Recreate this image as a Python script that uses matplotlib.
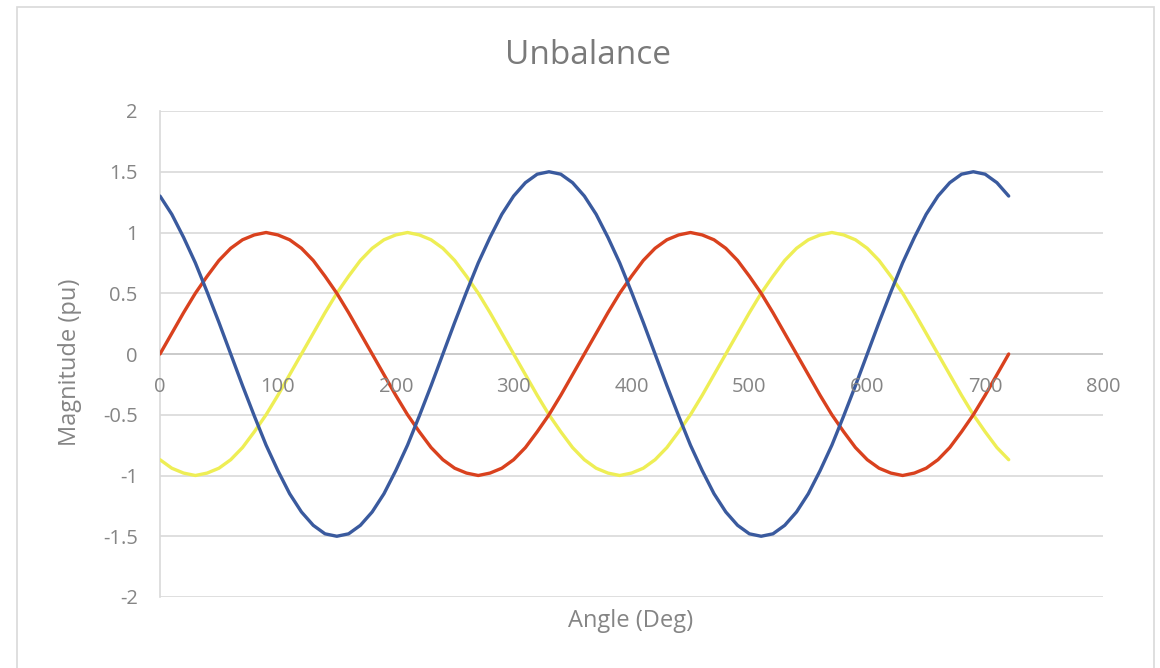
import matplotlib
matplotlib.use("Agg")
import matplotlib.pyplot as plt
from matplotlib.patches import Rectangle

# angle samples (deg)
angle = list(range(0, 730, 10))

# phase values (pu)
red_phase = [
    0, 0.17, 0.34, 0.5, 0.64, 0.77, 0.87, 0.94, 0.98, 1, 0.98, 0.94, 0.87, 0.77, 0.64, 0.5, 0.34, 0.17,
    0, -0.17, -0.34, -0.5, -0.64, -0.77, -0.87, -0.94, -0.98, -1, -0.98, -0.94, -0.87, -0.77, -0.64, -0.5, -0.34, -0.17,
    0, 0.17, 0.34, 0.5, 0.64, 0.77, 0.87, 0.94, 0.98, 1, 0.98, 0.94, 0.87, 0.77, 0.64, 0.5, 0.34, 0.17,
    0, -0.17, -0.34, -0.5, -0.64, -0.77, -0.87, -0.94, -0.98, -1, -0.98, -0.94, -0.87, -0.77, -0.64, -0.5, -0.34, -0.17,
    0,
]
yellow_phase = [
    -0.87, -0.94, -0.98, -1, -0.98, -0.94, -0.87, -0.77, -0.64, -0.5, -0.34, -0.17,
    0, 0.17, 0.34, 0.5, 0.64, 0.77, 0.87, 0.94, 0.98, 1, 0.98, 0.94, 0.87, 0.77, 0.64, 0.5, 0.34, 0.17,
    0, -0.17, -0.34, -0.5, -0.64, -0.77,
    -0.87, -0.94, -0.98, -1, -0.98, -0.94, -0.87, -0.77, -0.64, -0.5, -0.34, -0.17,
    0, 0.17, 0.34, 0.5, 0.64, 0.77, 0.87, 0.94, 0.98, 1, 0.98, 0.94, 0.87, 0.77, 0.64, 0.5, 0.34, 0.17,
    0, -0.17, -0.34, -0.5, -0.64, -0.77,
    -0.87,
]
blue_phase = [
    1.3, 1.15, 0.96, 0.75, 0.51, 0.26, 0, -0.26, -0.51, -0.75, -0.96, -1.15, -1.3, -1.41, -1.48, -1.5, -1.48, -1.41,
    -1.3, -1.15, -0.96, -0.75, -0.51, -0.26, 0, 0.26, 0.51, 0.75, 0.96, 1.15, 1.3, 1.41, 1.48, 1.5, 1.48, 1.41,
    1.3, 1.15, 0.96, 0.75, 0.51, 0.26, 0, -0.26, -0.51, -0.75, -0.96, -1.15, -1.3, -1.41, -1.48, -1.5, -1.48, -1.41,
    -1.3, -1.15, -0.96, -0.75, -0.51, -0.26, 0, 0.26, 0.51, 0.75, 0.96, 1.15, 1.3, 1.41, 1.48, 1.5, 1.48, 1.41,
    1.3,
]

x_ticks = [0, 100, 200, 300, 400, 500, 600, 700, 800]
y_ticks = [-2, -1.5, -1, -0.5, 0, 0.5, 1, 1.5, 2]
y_labels = ["-2", "-1.5", "-1", "-0.5", "0", "0.5", "1", "1.5", "2"]

plt.rcParams['font.family'] = ['Open Sans', 'DejaVu Sans']
TXT = "#858585"
GRID = "#d9d9d9"
W, H = 1160, 668

fig = plt.figure(figsize=(11.6, 6.68), dpi=100)
fig.patches.append(Rectangle((17 / W, -0.01), (1154 - 17) / W, 1 - 7 / H + 0.01,
                             transform=fig.transFigure, fill=False, edgecolor=GRID, linewidth=1.2))

ax = fig.add_axes([160 / W, 71 / H, (1103 - 160) / W, (597 - 111) / H])

line_kw = dict(linewidth=2.4, solid_joinstyle="round", solid_capstyle="round")
ax.plot(angle, yellow_phase, color="#eeee55", zorder=3, **line_kw)
ax.plot(angle, red_phase, color="#d9411e", zorder=4, **line_kw)
ax.plot(angle, blue_phase, color="#3a5a9e", zorder=5, **line_kw)

ax.set_xlim(0, 800)
ax.set_ylim(-2, 2)
ax.set_yticks(y_ticks)
ax.set_yticklabels(y_labels)
ax.set_xticks([])
ax.yaxis.grid(True, color=GRID, linewidth=1.2)
ax.set_axisbelow(True)
for s in ["top", "right", "bottom"]:
    ax.spines[s].set_visible(False)
ax.spines["left"].set_color(GRID)
ax.spines["left"].set_linewidth(1.2)
ax.axhline(0, color="#c8c8c8", linewidth=1.2, zorder=2)
ax.tick_params(axis="y", length=0, pad=16, labelsize=14.5, labelcolor=TXT)

# x tick labels sit on the zero line, like the spreadsheet
for t in x_ticks:
    ax.text(t, -0.27, str(t), ha="center", va="center", fontsize=14.5, color=TXT, zorder=6)

fig.text(588 / W, 1 - 55 / H, "Unbalance", ha="center", va="center", fontsize=24, color="#7a7a7a")
fig.text(70 / W, 1 - 362 / H, "Magnitude (pu)", ha="center", va="center", rotation=90,
         fontsize=17, color=TXT)
fig.text(631 / W, 1 - 621 / H, "Angle (Deg)", ha="center", va="center", fontsize=17, color=TXT)

fig.savefig("out.png", dpi=100)
